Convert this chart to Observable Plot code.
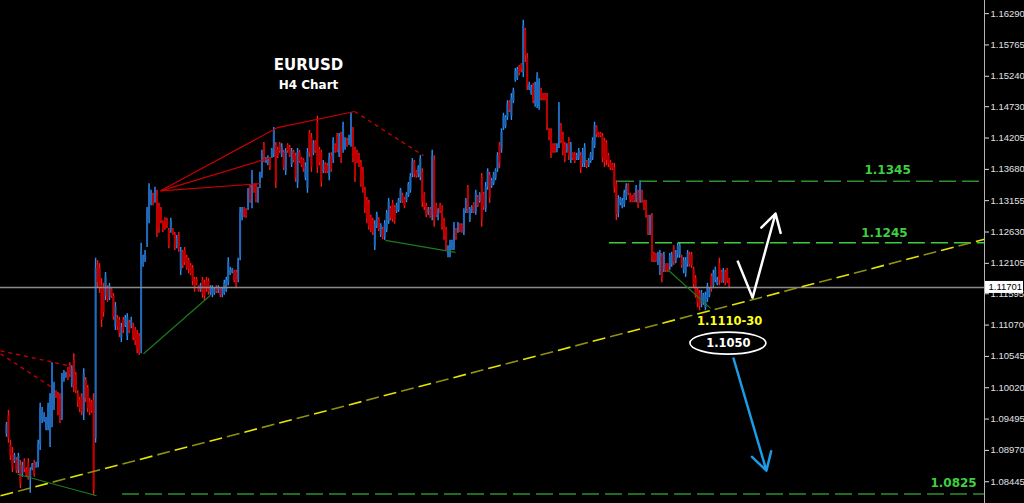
<!DOCTYPE html>
<html><head><meta charset="utf-8">
<script src="https://cdn.jsdelivr.net/npm/d3@7"></script>
<script src="https://cdn.jsdelivr.net/npm/@observablehq/plot@0.6"></script>
<style>
html,body{margin:0;padding:0;background:#000;overflow:hidden}
#chart svg{display:block}
</style></head><body><div id="chart"></div>
<script>
// EURUSD H4 candles, prices x 10 000
const high = [
10944,10964,10914,10902,10892,10885,10892,10880,10877,10883,
10868,10883,10868,10875,10880,10877,10914,10976,10969,10960,
10952,10976,10992,11044,11011,10997,10994,10992,11026,11031,
11028,11036,11044,11039,11059,11028,10997,10986,10992,11034,
11019,11006,10984,10981,10992,11219,11215,11210,11185,11177,
11195,11173,11177,11170,11160,11145,11123,11120,11110,11120,
11123,11126,11115,11120,11110,11103,11098,11093,11244,11224,
11232,11304,11344,11333,11328,11338,11333,11311,11304,11282,
11287,11286,11269,11286,11269,11262,11257,11262,11237,11232,
11237,11224,11219,11210,11207,11187,11187,11173,11177,11187,
11182,11187,11185,11173,11173,11170,11173,11173,11168,11170,
11182,11187,11220,11204,11202,11199,11199,11219,11304,11304,
11304,11302,11336,11341,11366,11344,11344,11338,11363,11400,
11413,11388,11391,11388,11403,11438,11413,11405,11413,11411,
11400,11403,11411,11408,11403,11400,11395,11403,11400,11388,
11386,11379,11403,11433,11428,11416,11416,11457,11405,11400,
11383,11379,11378,11395,11396,11421,11411,11428,11428,11430,
11447,11421,11420,11425,11463,11438,11405,11400,11395,11383,
11371,11338,11321,11316,11291,11286,11282,11296,11287,11277,
11271,11282,11299,11319,11306,11316,11307,11311,11319,11336,
11328,11321,11329,11346,11361,11386,11383,11366,11374,11391,
11369,11329,11311,11304,11304,11400,11391,11311,11302,11311,
11307,11286,11271,11240,11249,11249,11279,11269,11279,11277,
11277,11302,11319,11341,11304,11307,11312,11333,11324,11329,
11361,11329,11346,11369,11363,11353,11363,11369,11396,11413,
11436,11462,11458,11483,11483,11495,11504,11537,11539,11542,
11545,11618,11604,11562,11514,11509,11512,11514,11530,11520,
11504,11495,11495,11495,11436,11436,11411,11411,11411,11480,
11445,11430,11413,11411,11421,11413,11396,11396,11395,11403,
11396,11403,11411,11383,11386,11396,11421,11447,11441,11430,
11430,11428,11420,11416,11395,11383,11378,11378,11349,11324,
11321,11319,11333,11344,11344,11328,11324,11328,11341,11333,
11349,11333,11316,11316,11291,11291,11294,11229,11227,11229,
11232,11227,11229,11210,11210,11227,11229,11240,11232,11244,
11245,11224,11220,11220,11232,11229,11229,11204,11190,11170,
11165,11165,11160,11162,11177,11170,11193,11199,11204,11187,
11219,11199,11202,11199,11202,11185];
const low = [
10919,10909,10880,10860,10875,10858,10858,10833,10852,10860,
10852,10847,10825,10863,10852,10867,10868,10897,10942,10944,
10930,10930,10902,10935,10964,10984,10955,10942,10947,11011,
11018,11014,11019,11002,10994,10992,10969,10960,10955,10947,
10977,10960,10955,10959,10821,10909,11170,11160,11103,11120,
11148,11145,11148,11152,11115,11098,11098,11086,11078,11093,
11103,11081,11093,11101,11081,11073,11059,11056,11059,11204,
11212,11237,11277,11307,11307,11311,11254,11261,11277,11262,
11266,11269,11235,11261,11257,11232,11235,11229,11190,11202,
11207,11199,11193,11190,11173,11162,11173,11162,11162,11152,
11148,11162,11157,11157,11153,11157,11160,11160,11153,11153,
11157,11162,11173,11190,11193,11178,11168,11178,11215,11282,
11287,11286,11299,11311,11302,11328,11312,11311,11336,11353,
11379,11378,11374,11366,11386,11388,11336,11386,11395,11388,
11366,11358,11395,11388,11371,11379,11346,11336,11378,11371,
11363,11349,11328,11388,11363,11391,11395,11361,11374,11338,
11361,11361,11361,11349,11363,11378,11395,11396,11388,11378,
11395,11400,11405,11408,11405,11379,11346,11378,11371,11338,
11328,11294,11277,11266,11262,11257,11232,11269,11264,11254,
11250,11249,11262,11276,11282,11279,11276,11294,11296,11311,
11311,11302,11312,11321,11328,11354,11354,11353,11354,11349,
11304,11299,11287,11291,11286,11282,11271,11287,11282,11294,
11266,11249,11232,11220,11220,11232,11232,11249,11261,11262,
11261,11257,11294,11294,11279,11294,11294,11291,11304,11311,
11271,11299,11296,11333,11311,11336,11341,11349,11363,11369,
11395,11433,11436,11450,11463,11450,11478,11514,11517,11525,
11530,11522,11547,11500,11500,11492,11478,11472,11470,11467,
11483,11483,11483,11433,11416,11386,11395,11395,11396,11403,
11411,11391,11379,11395,11383,11378,11383,11378,11383,11383,
11361,11371,11371,11369,11371,11378,11383,11403,11421,11421,
11421,11379,11371,11374,11371,11366,11366,11328,11282,11287,
11307,11302,11304,11316,11324,11312,11312,11312,11312,11302,
11311,11311,11299,11286,11257,11257,11212,11212,11212,11207,
11190,11178,11195,11195,11195,11199,11204,11207,11210,11219,
11219,11202,11193,11187,11204,11204,11202,11168,11152,11136,
11131,11136,11140,11131,11145,11153,11162,11168,11178,11173,
11173,11177,11177,11173,11177,11168];
const open = [
10924,10955,10905,10893,10878,10880,10863,10872,10857,10878,
10865,10875,10850,10865,10875,10868,10875,10907,10947,10947,
10934,10939,10914,10955,10972,10996,10989,10984,10955,11014,
11019,11031,11039,11009,11048,11023,10992,10981,10986,10959,
11014,11001,10979,10977,10981,10917,11207,11202,11173,11168,
11155,11168,11153,11167,11155,11105,11118,11115,11085,11115,
11106,11088,11111,11105,11105,11098,11093,11088,11068,11207,
11215,11244,11286,11312,11324,11316,11324,11304,11299,11279,
11284,11282,11266,11264,11267,11259,11239,11257,11199,11229,
11232,11220,11215,11207,11202,11183,11183,11172,11165,11182,
11177,11182,11180,11160,11157,11160,11170,11163,11165,11157,
11160,11165,11178,11193,11195,11197,11195,11183,11224,11286,
11301,11299,11304,11336,11311,11341,11339,11316,11339,11359,
11408,11379,11378,11385,11388,11393,11408,11401,11410,11391,
11396,11364,11408,11405,11376,11396,11390,11344,11396,11385,
11383,11354,11336,11428,11421,11395,11413,11447,11401,11395,
11364,11376,11374,11356,11391,11383,11408,11423,11393,11425,
11400,11403,11416,11410,11411,11433,11400,11396,11391,11378,
11366,11333,11316,11311,11287,11282,11239,11272,11284,11257,
11267,11254,11267,11281,11302,11311,11304,11297,11299,11314,
11324,11318,11316,11324,11333,11359,11379,11364,11358,11354,
11364,11326,11307,11294,11301,11291,11383,11307,11286,11307,
11302,11281,11266,11224,11225,11235,11237,11266,11264,11274,
11274,11262,11297,11336,11282,11297,11309,11296,11321,11314,
11354,11326,11302,11338,11358,11339,11344,11353,11369,11408,
11401,11438,11440,11455,11480,11457,11482,11517,11520,11540,
11544,11530,11601,11554,11502,11495,11509,11477,11477,11473,
11500,11493,11493,11490,11433,11431,11408,11408,11400,11410,
11441,11425,11408,11398,11416,11383,11395,11393,11385,11386,
11391,11376,11378,11381,11374,11381,11388,11408,11438,11428,
11428,11423,11415,11411,11391,11379,11376,11371,11343,11294,
11311,11306,11309,11321,11341,11324,11322,11324,11318,11328,
11316,11329,11314,11311,11286,11262,11287,11227,11225,11210,
11197,11222,11200,11209,11209,11204,11209,11235,11214,11224,
11224,11220,11199,11193,11209,11225,11224,11199,11185,11165,
11160,11142,11143,11136,11150,11157,11188,11173,11182,11175,
11210,11195,11180,11195,11199,11183];
const close = [
10939,10917,10888,10868,10888,10863,10887,10841,10872,10865,
10855,10853,10863,10873,10857,10875,10907,10967,10964,10957,
10949,10969,10984,11034,11002,10986,10964,10950,11018,11026,
11026,11018,11024,11034,11004,10997,10976,10966,10962,11026,
10984,10967,10960,10962,10830,11202,11178,11168,11115,11128,
11188,11150,11172,11155,11121,11138,11103,11093,11103,11098,
11118,11120,11096,11115,11086,11080,11066,11061,11232,11219,
11227,11296,11336,11328,11311,11333,11266,11269,11282,11266,
11269,11272,11240,11281,11259,11237,11252,11234,11232,11207,
11212,11202,11199,11193,11180,11167,11175,11163,11173,11158,
11155,11167,11162,11170,11170,11167,11163,11170,11157,11167,
11177,11182,11212,11200,11200,11182,11173,11212,11296,11301,
11291,11289,11331,11316,11359,11331,11318,11333,11358,11393,
11386,11386,11388,11371,11400,11433,11346,11390,11398,11406,
11371,11398,11398,11391,11398,11383,11354,11396,11381,11374,
11368,11374,11396,11395,11371,11411,11398,11371,11379,11346,
11378,11364,11364,11388,11368,11416,11398,11401,11423,11386,
11441,11418,11408,11421,11458,11386,11353,11381,11374,11344,
11334,11301,11284,11272,11267,11262,11276,11292,11267,11274,
11254,11277,11294,11314,11286,11284,11281,11307,11316,11333,
11314,11306,11326,11343,11356,11381,11359,11356,11371,11386,
11312,11304,11291,11301,11289,11390,11282,11291,11299,11297,
11272,11255,11239,11237,11244,11245,11274,11252,11276,11266,
11264,11297,11316,11301,11301,11304,11297,11328,11307,11326,
11282,11304,11339,11364,11319,11349,11359,11366,11391,11378,
11430,11457,11455,11478,11467,11488,11499,11532,11535,11529,
11534,11609,11559,11509,11510,11505,11483,11509,11524,11514,
11487,11485,11485,11441,11420,11395,11398,11398,11408,11473,
11416,11398,11386,11408,11390,11408,11386,11381,11391,11400,
11368,11398,11405,11373,11383,11393,11416,11441,11426,11423,
11423,11386,11379,11383,11376,11369,11368,11336,11292,11318,
11318,11316,11328,11339,11328,11316,11314,11316,11336,11307,
11343,11316,11302,11291,11262,11286,11222,11215,11215,11225,
11227,11187,11224,11199,11199,11222,11224,11212,11229,11239,
11240,11207,11215,11215,11227,11209,11207,11175,11158,11143,
11138,11160,11157,11157,11172,11167,11167,11193,11199,11183,
11182,11180,11197,11177,11180,11172];

// price axis
const yTicks = [1.16290,1.15765,1.15240,1.14730,1.14205,1.13680,1.13155,1.12630,
                1.12105,1.11595,1.11070,1.10545,1.10020,1.09495,1.08970,1.08445];
const lastPrice = 1.11701;

// horizontal levels
const levelPrice = [1.1348, 1.1245, 1.0824];
const levelText  = ["1.1345", "1.1245", "1.0825"];
const levelStart = [308.6, 304.5, 58.6];          // candle index where level begins
const levelLabelX = [445, 443.4, 478.3];
const levelLabelY = [1.1366, 1.1261, 1.0842];

// drawn lines: [index1, price1, index2, price2]
const redSolid = [[77.8,1.1332,136.9,1.1438],[136.9,1.1438,175.8,1.1465],
                  [77.8,1.1332,133.8,1.1388],[77.8,1.1332,128.3,1.1344]];
const redDashed = [[175.8,1.1465,210.6,1.1391],[-3.03,1.1064,31.3,1.1039],[-3.03,1.1059,23.2,1.1002]];
const greenThin = [[5.6,1.0857,45.5,1.0821],[69.2,1.1059,103.0,1.1157],
                   [191.4,1.1249,226.8,1.1229],[334.3,1.1199,355.6,1.1135]];
const yellowTrend = [[-3.03,1.0821,493.94,1.1251]];
const whiteLeg = [[369.2,1.1215,376.8,1.1153]];
const whiteArrow = [[376.8,1.1153,388.4,1.1294]];
const blueArrow = [[367.2,1.1051,383.8,1.0863]];
const targetText = ["1.1110-30", "1.1050"];
const targetX = [365.2, 364.6];
const targetY = [1.1113, 1.1076];

const S = 1e4;
const candles = high.map((h, i) => ({i, h: h / S, l: low[i] / S, o: open[i] / S, c: close[i] / S}));
const ups = candles.filter(d => d.c >= d.o);
const downs = candles.filter(d => d.c < d.o);
const seg = a => a.map(([x1, y1, x2, y2]) => ({x1, y1, x2, y2}));
const levels = levelPrice.map((p, k) => ({p, start: levelStart[k], text: levelText[k], lx: levelLabelX[k], ly: levelLabelY[k]}));
const targets = targetText.map((t, k) => ({t, x: targetX[k], y: targetY[k]}));

const xDomain = [-3.03, 493.94];
const xEnd = xDomain[1];
const yDomain = [1.0808, 1.1651];

function ellipseRender(rx, ry, stroke) {
  return (index, scales, values) => {
    const g = d3.create("svg:g");
    for (const i of index) g.append("ellipse").attr("cx", values.x[i]).attr("cy", values.y[i])
      .attr("rx", rx).attr("ry", ry).attr("fill", "none").attr("stroke", stroke).attr("stroke-width", 1.6);
    return g.node();
  };
}
function boxRender(w, h, fill) {
  return (index, scales, values) => {
    const g = d3.create("svg:g");
    for (const i of index) g.append("rect").attr("x", values.x[i] + 1).attr("y", values.y[i] - h / 2)
      .attr("width", w).attr("height", h).attr("fill", fill);
    return g.node();
  };
}

const link = (data, o) => Plot.link(seg(data), {x1: "x1", y1: "y1", x2: "x2", y2: "y2", ...o});
const bold = {fontFamily: "DejaVu Sans, sans-serif", fontWeight: "bold"};

const chart = Plot.plot({
  width: 1024, height: 503,
  marginLeft: 0, marginRight: 40, marginTop: 0, marginBottom: 0,
  x: {domain: xDomain, axis: null},
  y: {domain: yDomain, axis: null},
  style: {background: "#000", color: "#ddd", fontFamily: "Liberation Sans, Arial, sans-serif", overflow: "visible"},
  marks: [
    // candles
    Plot.ruleX(ups, {x: "i", y1: "l", y2: "h", stroke: "#2b93ff", strokeWidth: 1.4}),
    Plot.ruleX(downs, {x: "i", y1: "l", y2: "h", stroke: "#ff1414", strokeWidth: 1.4}),
    Plot.ruleX(ups, {x: "i", y1: "o", y2: "c", stroke: "#2068b8", strokeWidth: 2}),
    Plot.ruleX(downs, {x: "i", y1: "o", y2: "c", stroke: "#c00000", strokeWidth: 2}),
    // current price line
    Plot.ruleY([lastPrice], {stroke: "#8a8a8a", strokeWidth: 1.5}),
    // horizontal levels
    Plot.ruleY([levels[0], levels[2]], {y: "p", x1: "start", x2: () => xEnd, stroke: "#2e8f2e", strokeWidth: 1.5, strokeDasharray: "17,6"}),
    Plot.ruleY([levels[1]], {y: "p", x1: "start", x2: () => xEnd, stroke: "#3ccf3c", strokeWidth: 1.5, strokeDasharray: "17,6"}),
    Plot.text(levels, {x: "lx", y: "ly", text: "text", fill: "#3fcf3f", fontSize: 12, ...bold}),
    // drawings
    link(yellowTrend, {stroke: "#e6e600", strokeWidth: 1.6, strokeDasharray: "13,23"}),
    link(yellowTrend, {stroke: "#8f8f12", strokeWidth: 1.6, strokeDasharray: "13,23", strokeDashoffset: 18}),
    link(redSolid, {stroke: "#c80000", strokeWidth: 1.2}),
    link(redDashed, {stroke: "#c00000", strokeWidth: 1.4, strokeDasharray: "4,4"}),
    link(greenThin, {stroke: "#1d7a1d", strokeWidth: 1.2}),
    link(whiteLeg, {stroke: "#fff", strokeWidth: 2.5}),
    Plot.arrow(seg(whiteArrow), {x1: "x1", y1: "y1", x2: "x2", y2: "y2", stroke: "#fff", strokeWidth: 2.5, headLength: 12}),
    Plot.arrow(seg(blueArrow), {x1: "x1", y1: "y1", x2: "x2", y2: "y2", stroke: "#1c9be6", strokeWidth: 2.5, headLength: 12}),
    Plot.text([targets[0]], {x: "x", y: "y", text: "t", fill: "#ffff1a", fontSize: 11.5, ...bold}),
    Plot.text([targets[1]], {x: "x", y: "y", text: "t", fill: "#fff", fontSize: 11.5, ...bold}),
    Plot.dot([targets[1]], {x: "x", y: "y", render: ellipseRender(38, 11, "#fff")}),
    // title
    Plot.text(["EURUSD"], {frameAnchor: "top-left", dx: 308, dy: 59, text: d => d, textAnchor: "middle", fill: "#fff", fontSize: 15, ...bold}),
    Plot.text(["H4 Chart"], {frameAnchor: "top-left", dx: 308, dy: 80, text: d => d, textAnchor: "middle", fill: "#fff", fontSize: 12, ...bold}),
    // price axis
    Plot.ruleX([xEnd], {stroke: "#b4b4b4", strokeWidth: 1}),
    Plot.axisY(yTicks, {anchor: "right", tickSize: 4, tickPadding: 2, tickFormat: d => d.toFixed(5), label: null, fontSize: 9.5, color: "#e0e0e0"}),
    Plot.dot([lastPrice], {x: () => xEnd, y: d => d, render: boxRender(38, 12, "#fff")}),
    Plot.text([lastPrice], {x: () => xEnd, y: d => d, text: d => d.toFixed(5), dx: 4, textAnchor: "start", fill: "#000", fontSize: 9.5})
  ]
});
document.getElementById("chart").appendChild(chart);
</script>
</body></html>
